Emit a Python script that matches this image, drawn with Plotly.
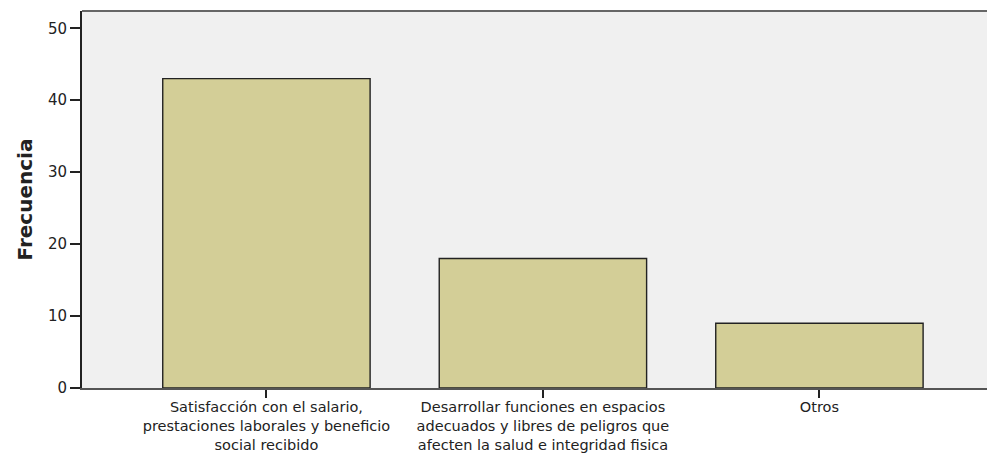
import plotly.graph_objects as go

categories = [
    "Satisfacción con el salario,<br>prestaciones laborales y beneficio<br>social recibido",
    "Desarrollar funciones en espacios<br>adecuados y libres de peligros que<br>afecten la salud e integridad fisica",
    "Otros",
]
values = [43, 18, 9]
y_ticks = [0, 10, 20, 30, 40, 50]

FONT = "DejaVu Sans, Liberation Sans, Arial, sans-serif"

fig = go.Figure()
fig.add_trace(go.Bar(
    x=[0, 1, 2],
    y=values,
    width=0.75,
    marker=dict(color="#D3CE97", line=dict(color="#222222", width=1.4)),
    hoverinfo="skip",
))

fig.update_layout(
    width=987, height=448,
    margin=dict(l=74, r=0, t=3, b=68, autoexpand=False),
    paper_bgcolor="white",
    plot_bgcolor="#F0F0F0",
    showlegend=False,
    font=dict(family=FONT, color="#222222"),
    xaxis=dict(
        range=[-0.667, 2.635],
        tickmode="array",
        tickvals=[0, 1, 2],
        ticktext=categories,
        ticks="outside", ticklen=8, tickcolor="#222222", tickwidth=1.5,
        ticklabelstandoff=-3,
        showline=True, linecolor="#555555", linewidth=2,
        showgrid=False, zeroline=False, automargin=False,
        tickfont=dict(size=14.5, color="#222222", family=FONT),
    ),
    yaxis=dict(
        range=[0, 52.4],
        tickmode="array",
        tickvals=y_ticks,
        ticks="outside", ticklen=10, tickcolor="#222222", tickwidth=1.5,
        showline=True, linecolor="#222222", linewidth=2,
        showgrid=False, zeroline=False, automargin=False,
        tickfont=dict(size=15, color="#222222", family=FONT),
        title=dict(text="<b>Frecuencia</b>", font=dict(size=20, color="#222222", family=FONT), standoff=10),
    ),
)
fig.add_shape(type="line", xref="paper", yref="paper", x0=0, x1=1, y0=1, y1=1,
              line=dict(color="#666666", width=2))

fig.write_html("out.html")
